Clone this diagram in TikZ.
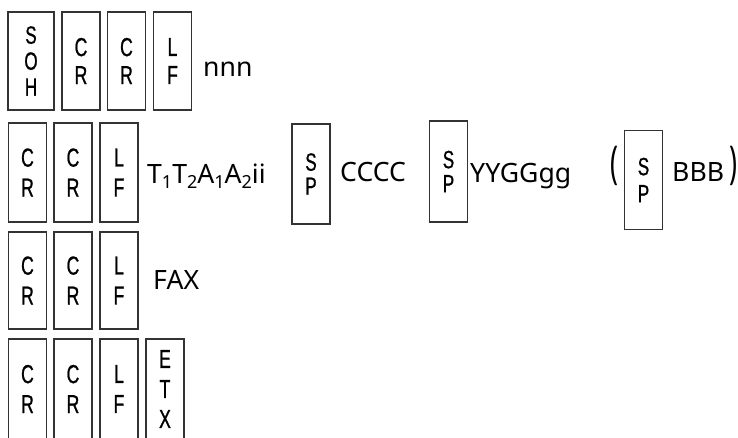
\documentclass[tikz,border=0pt]{standalone}
\usepackage{fontspec}
\usepackage{graphicx}
\setmainfont{Noto Sans}
\newfontfamily\boxfont[FakeStretch=0.68,FakeBold=0.8]{Liberation Sans}
\newcommand\sbs[1]{\raisebox{-5pt}{\fontsize{18}{18}\selectfont #1}}
\begin{document}
\begin{tikzpicture}[x=1pt,y=-1pt,
  cbox/.style={draw=black!80, line width=1.3pt, minimum width=38pt, minimum height=99pt,
    inner sep=0pt, align=center, font=\boxfont\fontsize{26}{30}\selectfont},
  txt/.style={anchor=base west, inner sep=0pt, font=\fontsize{26.6}{30}\selectfont},
  par/.style={inner sep=0pt, font=\fontsize{26.6}{30}\selectfont}]
\useasboundingbox (0,0) rectangle (738,437);
\clip (0,0) rectangle (738,437);
% row 1
\node[cbox, minimum width=46pt, minimum height=98pt, font=\boxfont\fontsize{25}{26}\selectfont] (soh) at (31,61) {S\\O\\H};
\node[cbox, minimum height=98pt, font=\boxfont\fontsize{26}{28}\selectfont] (r1cr1) at (81,61) {C\\R};
\node[cbox, minimum height=98pt, font=\boxfont\fontsize{26}{28}\selectfont] (r1cr2) at (126.5,61) {C\\R};
\node[cbox, minimum height=98pt, font=\boxfont\fontsize{26}{28}\selectfont] (r1lf) at (172.5,61) {L\\F};
\node[txt] (nnn) at (203,76) {nnn};
% row 2
\node[cbox] (r2cr1) at (27.5,172.5) {C\\R};
\node[cbox] (r2cr2) at (73,172.5) {C\\R};
\node[cbox] (r2lf) at (119,172.5) {L\\F};
\node[txt] (tta) at (147,183) {T\sbs{1}T\sbs{2}A\sbs{1}A\sbs{2}ii};
\node[cbox, minimum height=100pt, font=\boxfont\fontsize{25}{24}\selectfont] (sp1) at (311,174) {S\\P};
\node[txt] (cccc) at (340,181) {CCCC};
\node[cbox, minimum height=101pt, font=\boxfont\fontsize{25}{24}\selectfont] (sp2) at (448.5,171.5) {S\\P};
\node[txt] (yygg) at (470,182) {YYGGgg};
\node[par] (lp) at (614,165.5) {\scalebox{1}[1.7]{(}};
\node[cbox, font=\boxfont\fontsize{25}{27}\selectfont] (sp3) at (643.5,180) {S\\P};
\node[txt] (bbb) at (672,181) {BBB};
\node[par] (rp) at (733.5,165.5) {\scalebox{1}[1.7]{)}};
% row 3
\node[cbox, minimum height=97pt] (r3cr1) at (27.5,280.5) {C\\R};
\node[cbox, minimum height=97pt] (r3cr2) at (73,280.5) {C\\R};
\node[cbox, minimum height=97pt] (r3lf) at (119,280.5) {L\\F};
\node[txt] (fax) at (153,289) {FAX};
% row 4
\node[cbox, minimum height=100pt] (r4cr1) at (27.5,389) {C\\R};
\node[cbox, minimum height=100pt] (r4cr2) at (73,389) {C\\R};
\node[cbox, minimum height=100pt] (r4lf) at (119,389) {L\\F};
\node[cbox, minimum height=100pt] (etx) at (165,389) {E\\T\\X};
\end{tikzpicture}
\end{document}
